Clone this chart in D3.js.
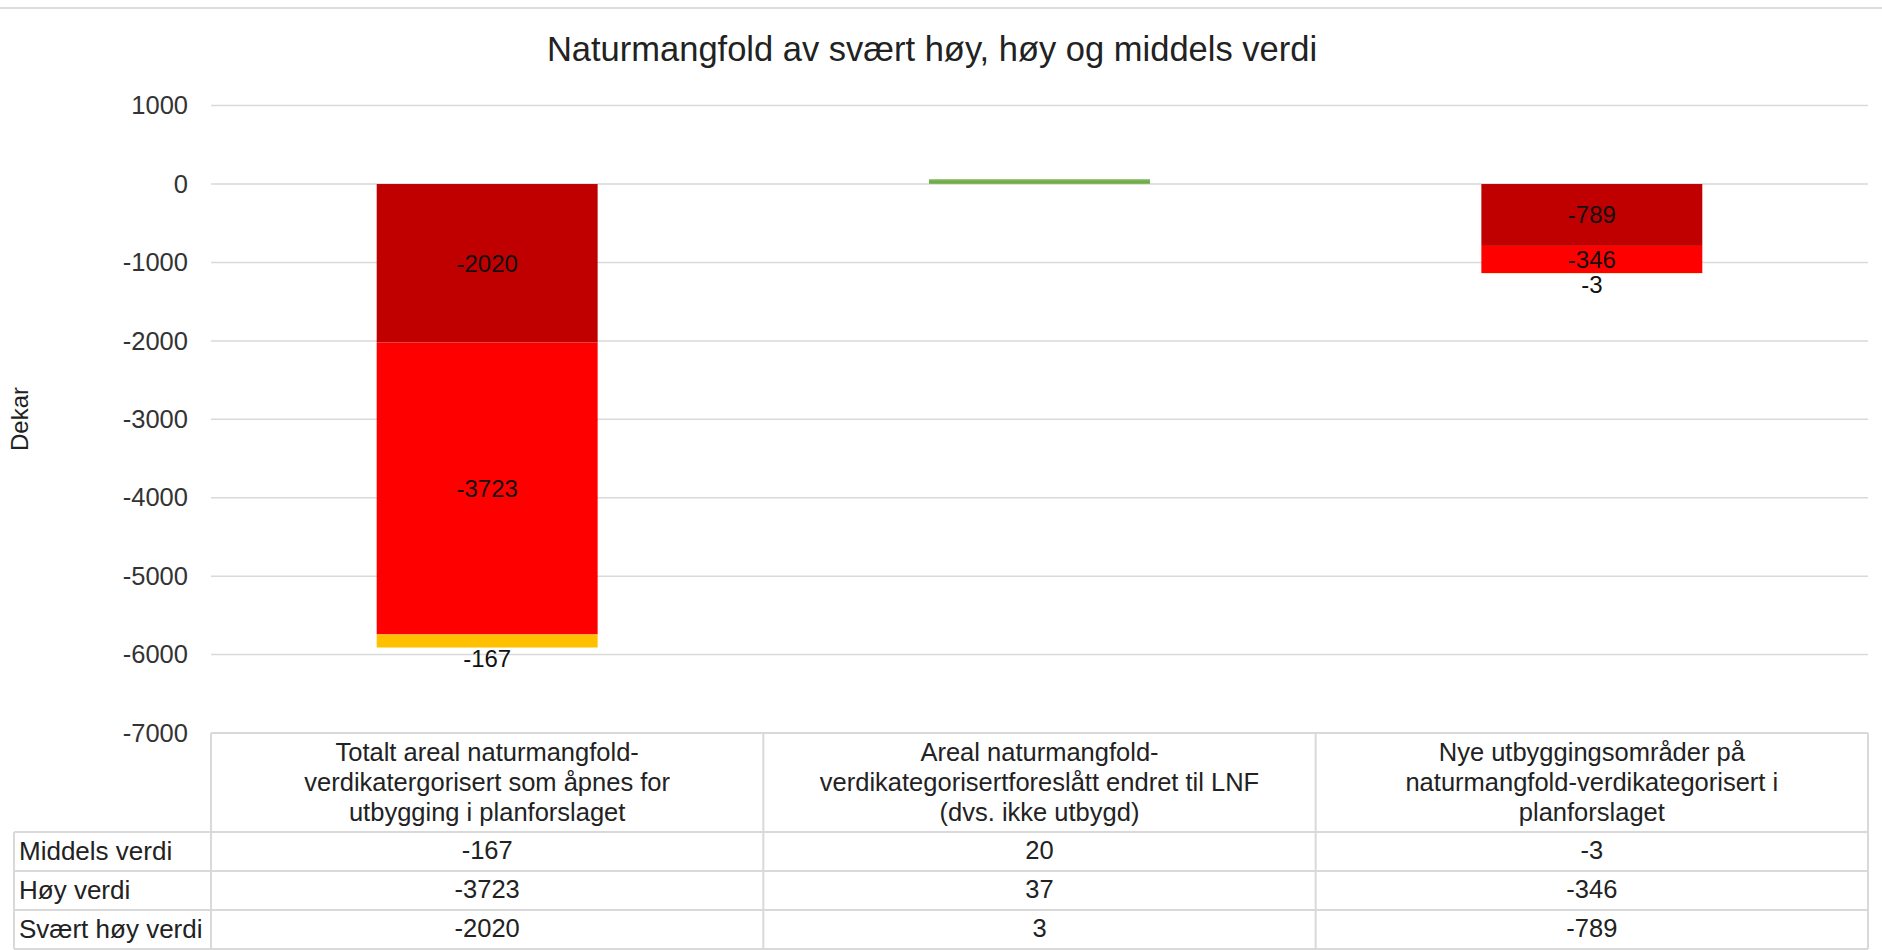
<!DOCTYPE html>
<html>
<head>
<meta charset="utf-8">
<script src="https://cdn.jsdelivr.net/npm/d3@7/dist/d3.min.js"></script>
<style>
  body { margin: 0; background: #fff; }
  text { font-family: "Liberation Sans", Arial, sans-serif; }
</style>
</head>
<body>
<svg id="chart"></svg>
<script>
// chart data
const title = "Naturmangfold av svært høy, høy og middels verdi";
const yLabel = "Dekar";
const categories = [
  ["Totalt areal naturmangfold-", "verdikatergorisert som åpnes for", "utbygging i planforslaget"],
  ["Areal naturmangfold-", "verdikategorisertforeslått endret til LNF", "(dvs. ikke utbygd)"],
  ["Nye utbyggingsområder på", "naturmangfold-verdikategorisert i", "planforslaget"]
];
const seriesNames = ["Middels verdi", "Høy verdi", "Svært høy verdi"];
const middels = [-167, 20, -3];
const hoy = [-3723, 37, -346];
const svaertHoy = [-2020, 3, -789];
const yTicks = [1000, 0, -1000, -2000, -3000, -4000, -5000, -6000, -7000];

const W = 1882, H = 950;
const svg = d3.select('#chart').attr('width', W).attr('height', H);

// rows for stacking, closest to zero first
const rows = categories.map((c, i) => ({ i: i, svaert: svaertHoy[i], hoy: hoy[i], middels: middels[i] }));
const keys = ['svaert', 'hoy', 'middels'];
const negColors = { svaert: '#C00000', hoy: '#FF0000', middels: '#FFC000' };
const posColor = '#70AD47';

const stack = d3.stack().keys(keys).offset(d3.stackOffsetDiverging);
const layers = stack(rows);

const x = d3.scaleBand()
  .domain(rows.map(d => d.i))
  .range([211, 1868])
  .paddingInner(0.6)
  .paddingOuter(0.3);

const y = d3.scaleLinear()
  .domain([-7000, 1000])
  .range([733, 105.6]);

// top frame line
svg.append('line')
  .attr('x1', 0).attr('x2', W)
  .attr('y1', 8).attr('y2', 8)
  .attr('stroke', '#dcdcdc').attr('stroke-width', 2);

// title
svg.append('text')
  .attr('x', 932).attr('y', 61)
  .attr('text-anchor', 'middle')
  .attr('font-size', 34.5)
  .attr('fill', '#222')
  .text(title);

// gridlines
svg.append('g')
  .selectAll('line')
  .data(yTicks)
  .enter()
  .append('line')
  .attr('x1', 211).attr('x2', 1868)
  .attr('y1', d => y(d)).attr('y2', d => y(d))
  .attr('stroke', '#d9d9d9').attr('stroke-width', 1.5);

// y axis labels (plain hyphen minus like the original)
const yAxis = svg.append('g')
  .attr('transform', 'translate(211,0)')
  .call(d3.axisLeft(y).tickValues(yTicks).tickSize(0).tickPadding(23).tickFormat(d => String(d)));
yAxis.select('.domain').remove();
yAxis.selectAll('text')
  .attr('font-size', 25.5)
  .attr('fill', '#333')
  .style('font-family', '"Liberation Sans", Arial, sans-serif');

svg.append('text')
  .attr('transform', 'translate(28,419) rotate(-90)')
  .attr('text-anchor', 'middle')
  .attr('font-size', 24)
  .attr('fill', '#222')
  .text(yLabel);

// bars
layers.forEach(function(layer) {
  svg.append('g')
    .selectAll('rect')
    .data(layer)
    .enter()
    .append('rect')
    .attr('x', d => x(d.data.i))
    .attr('width', x.bandwidth())
    .attr('y', d => y(Math.max(d[0], d[1])))
    .attr('height', d => Math.abs(y(d[0]) - y(d[1])))
    .attr('fill', d => d.data[layer.key] < 0 ? negColors[layer.key] : posColor);
});

// data labels (negative values only, as in the original)
layers.forEach(function(layer) {
  const labelled = layer.filter(d => d.data[layer.key] < 0);
  svg.append('g')
    .selectAll('text')
    .data(labelled)
    .enter()
    .append('text')
    .attr('x', d => x(d.data.i) + x.bandwidth() / 2)
    .attr('y', d => layer.key === 'middels' ? y(d[0]) + 11 : (y(d[0]) + y(d[1])) / 2)
    .attr('dy', '0.35em')
    .attr('text-anchor', 'middle')
    .attr('font-size', 24)
    .attr('fill', '#111')
    .text(d => d.data[layer.key]);
});

// data table under the plot
const tableTop = y(-7000);
const headBottom = 832;
const rowH = 39;
const tableLeft = 14;
const colEdges = rows.map(d => x(d.i) + x.bandwidth() / 2 - x.step() / 2);
colEdges.push(x(rows[rows.length - 1].i) + x.bandwidth() / 2 + x.step() / 2);
const tableRight = colEdges[colEdges.length - 1];
const tableBottom = headBottom + rowH * seriesNames.length;

const tbl = svg.append('g');
// horizontal rules
tbl.append('line')
  .attr('x1', colEdges[0]).attr('x2', tableRight)
  .attr('y1', tableTop).attr('y2', tableTop);
tbl.selectAll('.hrule')
  .data(d3.range(seriesNames.length + 1))
  .enter()
  .append('line')
  .attr('x1', tableLeft).attr('x2', tableRight)
  .attr('y1', k => headBottom + k * rowH)
  .attr('y2', k => headBottom + k * rowH);
// vertical rules
tbl.selectAll('.vrule')
  .data(colEdges)
  .enter()
  .append('line')
  .attr('x1', d => d).attr('x2', d => d)
  .attr('y1', tableTop).attr('y2', tableBottom);
tbl.append('line')
  .attr('x1', tableLeft).attr('x2', tableLeft)
  .attr('y1', headBottom).attr('y2', tableBottom);
tbl.selectAll('line').attr('stroke', '#d9d9d9').attr('stroke-width', 2);

// header text
rows.forEach(function(d) {
  const cx = x(d.i) + x.bandwidth() / 2;
  const lines = categories[d.i];
  const mid = (tableTop + headBottom) / 2;
  tbl.append('g')
    .selectAll('text')
    .data(lines)
    .enter()
    .append('text')
    .attr('x', cx)
    .attr('y', (t, k) => mid + (k - (lines.length - 1) / 2) * 30)
    .attr('dy', '0.35em')
    .attr('text-anchor', 'middle')
    .attr('font-size', 25.5)
    .attr('fill', '#222')
    .text(t => t);
});

// table values, rows ordered Middels, Høy, Svært høy
const tableSeries = [middels, hoy, svaertHoy];
tableSeries.forEach(function(vals, r) {
  const cy = headBottom + r * rowH + rowH / 2 - 1;
  tbl.append('text')
    .attr('x', tableLeft + 5).attr('y', cy)
    .attr('dy', '0.35em')
    .attr('font-size', 26)
    .attr('fill', '#222')
    .text(seriesNames[r]);
  tbl.append('g')
    .selectAll('text')
    .data(vals)
    .enter()
    .append('text')
    .attr('x', (v, i) => x(i) + x.bandwidth() / 2)
    .attr('y', cy)
    .attr('dy', '0.35em')
    .attr('text-anchor', 'middle')
    .attr('font-size', 25.5)
    .attr('fill', '#222')
    .text(v => v);
});
</script>
</body>
</html>
